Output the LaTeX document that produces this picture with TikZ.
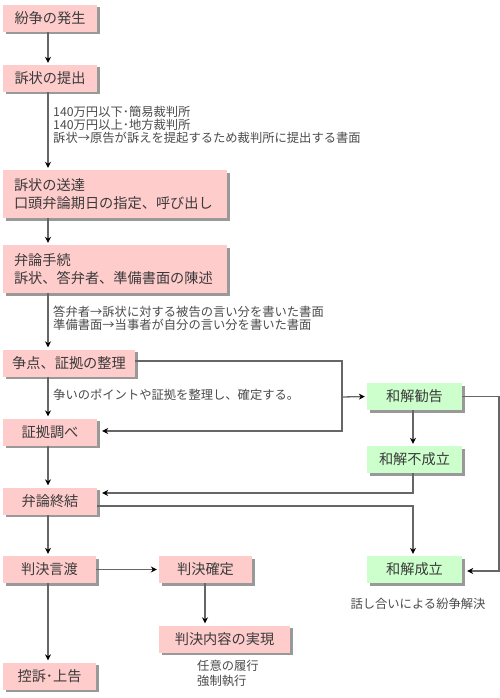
\documentclass[tikz,border=0pt]{standalone}
\usepackage{fontspec}
\newfontfamily\jp{Noto Sans CJK JP}
\usetikzlibrary{shadows,arrows.meta}
\definecolor{pinkbox}{HTML}{FFCCCC}
\definecolor{greenbox}{HTML}{CCFFCC}
\definecolor{linec}{HTML}{666666}
\definecolor{txt}{HTML}{3A3A3A}
\definecolor{notec}{HTML}{4A4A4A}
\tikzset{
  boxbase/.style={inner sep=0pt, minimum height=27pt, text=txt,
    font=\jp\fontsize{14.2}{18}\selectfont,
    drop shadow={shadow xshift=2.5pt, shadow yshift=-2.5pt, fill=black, opacity=0.4}},
  pbox/.style={boxbase, fill=pinkbox},
  gbox/.style={boxbase, fill=greenbox},
  widebox/.style={pbox, minimum height=48pt, text width=202pt, inner xsep=11pt, align=left},
  note/.style={inner sep=0pt, text=notec, font=\jp\fontsize{12.3}{13}\selectfont, align=left},
  arr/.style={draw=linec, line width=1.3pt, -{Stealth[length=6pt,width=6pt,black]}, shorten >=2pt},
  ln/.style={draw=linec, line width=1.3pt}
}
\begin{document}
\begin{tikzpicture}[x=1pt,y=-1pt]
\useasboundingbox (0,0) rectangle (500,698);
% boxes
\node[pbox, minimum width=94pt] (b1) at (50,18.5) {紛争の発生};
\node[pbox, minimum width=94pt] (b2) at (50,78.5) {訴状の提出};
\node[widebox] (b3) at (115,194) {訴状の送達\\口頭弁論期日の指定、呼び出し};
\node[widebox] (b4) at (115,269) {弁論手続\\訴状、答弁者、準備書面の陳述};
\node[pbox, minimum width=132pt] (b5) at (69,363) {争点、証拠の整理};
\node[pbox, minimum width=94pt] (b6) at (50,432) {証拠調べ};
\node[gbox, minimum width=95pt] (b7) at (414.5,396.5) {和解勧告};
\node[gbox, minimum width=95pt] (b8) at (414.5,459.5) {和解不成立};
\node[pbox, minimum width=94pt] (b9) at (50,501) {弁論終結};
\node[pbox, minimum width=93pt] (b10) at (49.5,569.5) {判決言渡};
\node[pbox, minimum width=93pt] (b11) at (205.5,569.5) {判決確定};
\node[gbox, minimum width=95pt] (b12) at (414.5,569.5) {和解成立};
\node[pbox, minimum width=131pt] (b13) at (224.5,639) {判決内容の実現};
\node[pbox, minimum width=93pt] (b14) at (49.5,676) {控訴･上告};
% notes
\node[note, anchor=north west] (n1) at (53,106) {140万円以下･簡易裁判所\\140万円以上･地方裁判所\\訴状→原告が訴えを提起するため裁判所に提出する書面};
\node[note, anchor=north west] (n2) at (53,306) {答弁者→訴状に対する被告の言い分を書いた書面\\準備書面→当事者が自分の言い分を書いた書面};
\node[note, anchor=west] (n3) at (53,395) {争いのポイントや証拠を整理し、確定する。};
\node[note] (n4) at (418,604) {話し合いによる紛争解決};
\node[note, anchor=north west, font=\jp\fontsize{12.3}{15}\selectfont] (n5) at (197,660) {任意の履行\\強制執行};
% connectors
\coordinate (j1) at (342,397);
\draw[arr] (b1.south -| 48,0) -- (b2.north -| 48,0);
\draw[arr] (b2.south -| 48,0) -- (b3.north -| 48,0);
\draw[arr] (b3.south -| 48,0) -- (b4.north -| 48,0);
\draw[arr] (b4.south -| 48,0) -- (b5.north -| 48,0);
\draw[arr] (b5.south -| 48,0) -- (b6.north -| 48,0);
\draw[arr] (b6.south -| 48,0) -- (b9.north -| 48,0);
\draw[arr] (b9.south -| 48,0) -- (b10.north -| 48,0);
\draw[arr] (b10.south -| 48,0) -- (b14.north -| 48,0);
\draw[arr, shorten >=5pt] (b5.east |- 0,361) -| (j1) |- (b6.east |- 0,431);
\draw[arr] (j1) -- (b7.west);
\draw[arr] (b7.south -| 413,0) -- (b8.north -| 413,0);
\draw[arr, shorten >=5pt] (b8.south -| 413,0) |- (b9.east |- 0,493);
\draw[arr] (b9.east |- 0,506) -| (b12.north -| 413,0);
\draw[arr, shorten >=5pt] (b7.east) -- (b7.east -| 499,0) |- (b12.east |- 0,571);
\draw[arr] (b10.east) -- (b11.west);
\draw[arr] (b11.south -| 205,0) -- (b13.north -| 205,0);
\end{tikzpicture}
\end{document}
